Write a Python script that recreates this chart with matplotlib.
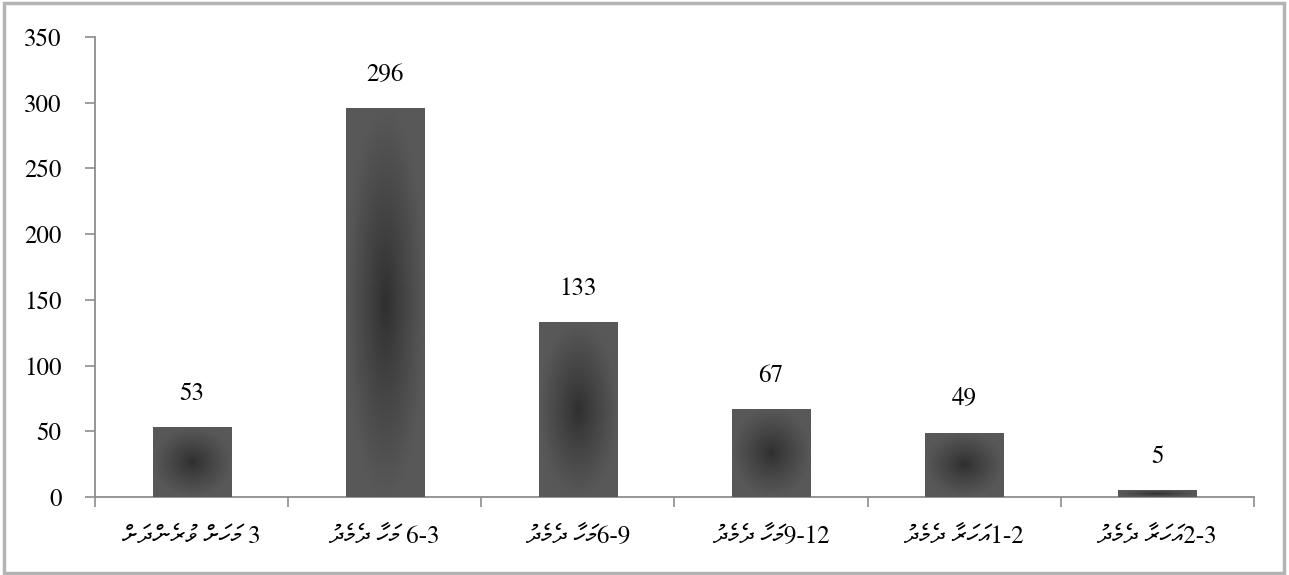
import os
import numpy as np
import matplotlib
matplotlib.use("Agg")
import matplotlib.pyplot as plt
import matplotlib.patches as mpatches
from matplotlib import font_manager
from matplotlib.colors import LinearSegmentedColormap

# ── font: FreeSerif has Thaana and looks like Times ─────────
for p in ["/usr/share/fonts/truetype/freefont/FreeSerif.ttf"]:
    if os.path.exists(p):
        font_manager.fontManager.addfont(p)

plt.rcParams.update({
    "font.family": ["FreeSerif", "Liberation Serif", "DejaVu Serif"],
    "font.size": 18,
})

# ── data ─────────────────────────────────────────────────────
numbers = ["3", "6-3", "6-9", "9-12", "1-2", "2-3"]
seps    = [" ", " ", "", "", "", ""]
words   = [
    ["މަހަށް", "ވުރެންދަށް"],
    ["މަހާ", "ދެމެދު"],
    ["މަހާ", "ދެމެދު"],
    ["މަހާ", "ދެމެދު"],
    ["އަހަރާ", "ދެމެދު"],
    ["އަހަރާ", "ދެމެދު"],
]
values = [53, 296, 133, 67, 49, 5]
y_ticks = [0, 50, 100, 150, 200, 250, 300, 350]


def visual(word):
    # matplotlib has no bidi: lay the Thaana word out right-to-left by hand
    return word[::-1]


labels = []
for num, sep, ws in zip(numbers, seps, words):
    thaana = " ".join(visual(w) for w in reversed(ws))
    labels.append(thaana + sep + num)

AXIS_COL = "#8c8c8c"
cmap = LinearSegmentedColormap.from_list("bar", ["#2e2e2e", "#585858"])

fig = plt.figure(figsize=(12.89, 5.75), dpi=100)
ax = fig.add_axes([0.0737, 0.1357, 0.899, 0.80])

x = np.arange(len(values))
bars = ax.bar(x, values, width=0.404, color="#585858", zorder=2)

# centre-out gradient inside each bar
n = 200
u = np.linspace(-1, 1, n)
U, V = np.meshgrid(u, u)
grad = np.clip(np.sqrt(U ** 2 + V ** 2), 0, 1) ** 0.85
for b in bars:
    x0, y0 = b.get_x(), b.get_y()
    w, h = b.get_width(), b.get_height()
    im = ax.imshow(grad, cmap=cmap, vmin=0, vmax=1, aspect="auto",
                   extent=(x0, x0 + w, y0, y0 + h), zorder=3,
                   interpolation="bilinear")
    im.set_clip_path(b)

for xi, v in zip(x, values):
    ax.annotate(str(v), (xi, v), xytext=(0, 24), textcoords="offset points",
                ha="center", va="center", fontsize=18)

ax.set_xlim(-0.5, len(values) - 0.5)
ax.set_ylim(0, 350)
ax.set_yticks(y_ticks)
ax.set_xticks(x)
ax.set_xticklabels(labels)
ax.set_xticks(np.arange(len(values) + 1) - 0.5, minor=True)
ax.tick_params(axis="x", which="major", length=0, pad=20, labelsize=18)
ax.tick_params(axis="x", which="minor", length=7, width=1.2,
               color=AXIS_COL, direction="out")
ax.tick_params(axis="y", length=7, width=1.2, color=AXIS_COL,
               pad=17, labelsize=18)

for s in ["top", "right"]:
    ax.spines[s].set_visible(False)
for s in ["left", "bottom"]:
    ax.spines[s].set_color(AXIS_COL)
    ax.spines[s].set_linewidth(1.3)

# outer chart border
fig.patches.append(mpatches.Rectangle((0.003, 0.004), 0.993, 0.991,
                                      transform=fig.transFigure, fill=False,
                                      edgecolor="#b4b4b4", linewidth=2.5))

fig.savefig("out.png", dpi=100)
